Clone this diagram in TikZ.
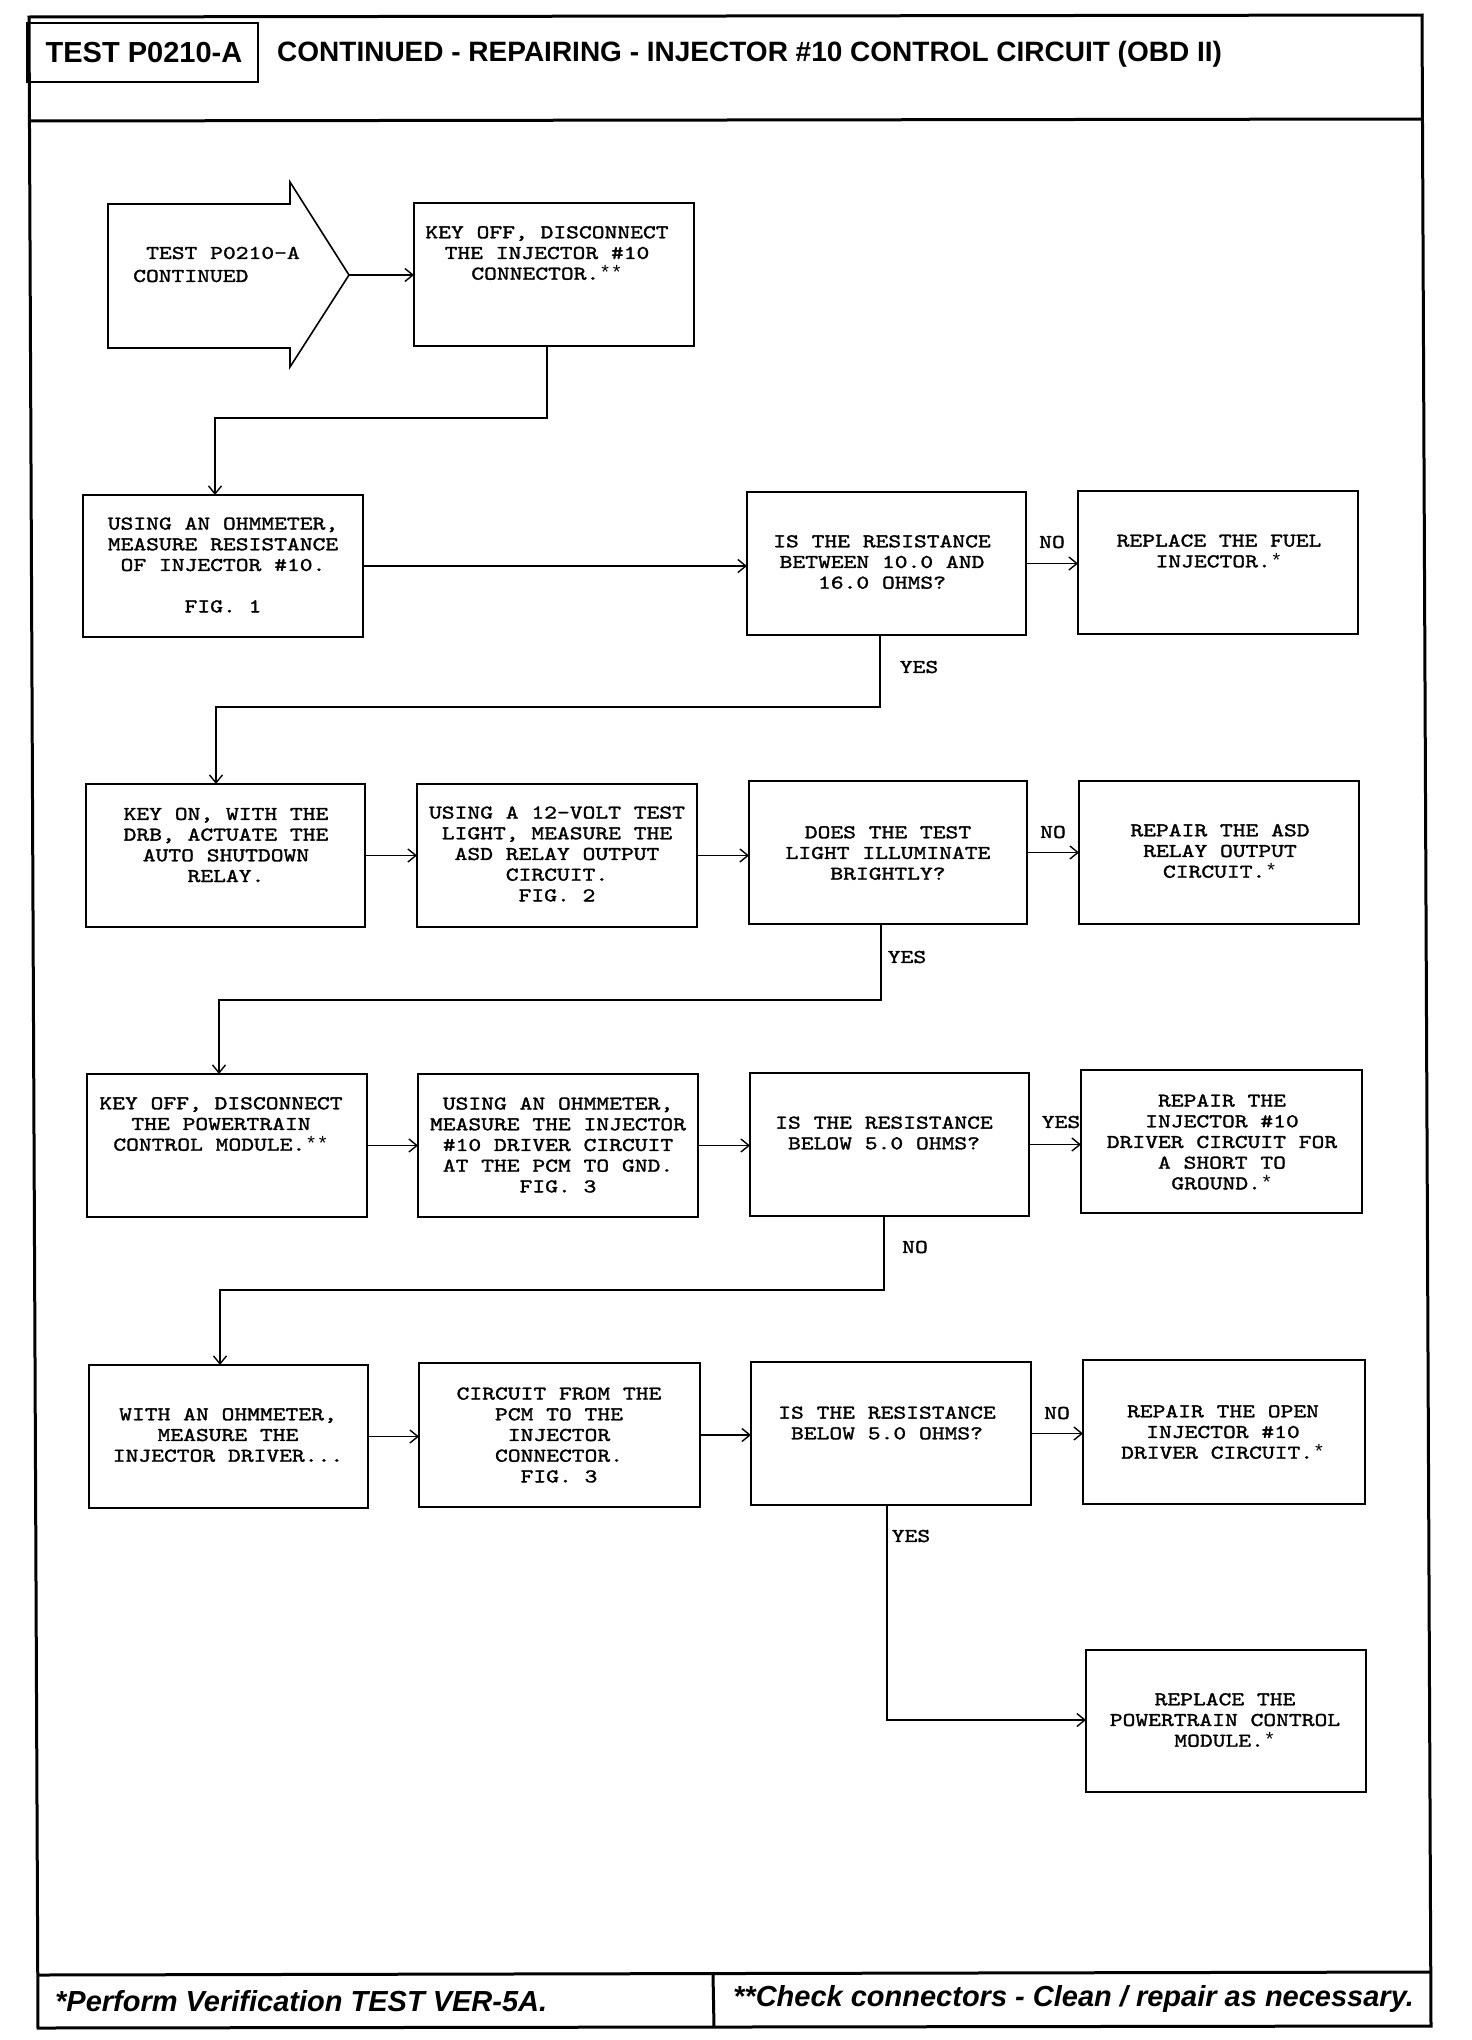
\documentclass[tikz,border=0pt]{standalone}
\usepackage{fontspec}
\usetikzlibrary{arrows.meta}
\newfontfamily\cour{lmmono10-regular.otf}[FakeStretch=1.25,FakeBold=1.6]
\newfontfamily\stfont{Liberation Mono}
\newfontfamily\hsans{Liberation Sans}
\newcommand\st{{\stfont*}}
\newcommand\flowbox[5]{%
  \pgfmathsetmacro\fbw{#4-#2}\pgfmathsetmacro\fbh{#5-#3}%
  \pgfmathsetmacro\fbx{(#2+#4)/2}\pgfmathsetmacro\fby{(#3+#5)/2}%
  \node[boxst, minimum width=\fbw pt, minimum height=\fbh pt] (#1) at (\fbx,\fby) {};}
\begin{document}
\begin{tikzpicture}[x=1pt,y=-1pt,
  boxst/.style={draw, line width=1.9pt, inner sep=0pt, outer sep=0pt},
  txt/.style={font=\cour\fontsize{19.5}{20.7}\selectfont, align=center, inner sep=0pt},
  lbl/.style={font=\cour\fontsize{19.5}{20.7}\selectfont, inner sep=0pt},
  arr/.style={line width=1.4pt, -{Straight Barb[length=8pt,width=13pt,line width=1.4pt]}},
  frame/.style={line width=3pt},
  ttl/.style={font=\hsans\bfseries\fontsize{29}{32}\selectfont, inner sep=0pt},
  ttlb/.style={font=\hsans\bfseries\fontsize{28}{32}\selectfont, inner sep=0pt, anchor=west},
  foot/.style={font=\hsans\bfseries\itshape\fontsize{29}{32}\selectfont, inner sep=0pt, anchor=west}]
\useasboundingbox (0,0) rectangle (1472,2040);
% outer frame
\draw[frame] (29,17) -- (1422,15) -- (1431,2026) -- (38,2028) -- cycle;
\draw[frame] (29,121) -- (1422,119);
\draw[frame] (38,1975) -- (1431,1972);
\draw[frame] (713,1974) -- (714,2027);
% title
\draw[line width=2.5pt] (27,23) rectangle (258,82);
\node[ttl] (title) at (144,53) {TEST P0210-A};
\node[ttlb] (title2) at (277,54) {CONTINUED - REPAIRING - INJECTOR \#10 CONTROL CIRCUIT (OBD II)};
% footer
\node[foot] (f1) at (55,2001) {*Perform Verification TEST VER-5A.};
\node[foot] (f2) at (733,1999) {**Check connectors - Clean / repair as necessary.};
% start arrow shape
\draw[line width=1.6pt] (108,204) -- (290,204) -- (290,182) -- (349,275) -- (290,367) -- (290,348) -- (108,348) -- cycle;
\coordinate (tip) at (349,275);
\node[txt, anchor=west] (s1) at (146,253) {TEST P0210-A};
\node[txt, anchor=west] (s2) at (133,276) {CONTINUED};
% boxes
\flowbox{b1}{414}{203}{694}{346}
\flowbox{b2}{83}{495}{363}{637}
\flowbox{b3}{747}{492}{1026}{635}
\flowbox{b4}{1078}{491}{1358}{634}
\flowbox{b5}{86}{784}{365}{927}
\flowbox{b6}{417}{784}{697}{927}
\flowbox{b7}{749}{781}{1027}{924}
\flowbox{b8}{1079}{781}{1359}{924}
\flowbox{b9}{87}{1074}{367}{1217}
\flowbox{b10}{418}{1074}{698}{1217}
\flowbox{b11}{750}{1073}{1029}{1216}
\flowbox{b12}{1081}{1070}{1362}{1213}
\flowbox{b13}{89}{1365}{368}{1508}
\flowbox{b14}{419}{1363}{700}{1507}
\flowbox{b15}{751}{1362}{1031}{1505}
\flowbox{b16}{1083}{1360}{1365}{1504}
\flowbox{b17}{1086}{1650}{1366}{1792}
% texts
\node[txt] (t1) at (547,253) {KEY OFF, DISCONNECT\\THE INJECTOR \#10\\CONNECTOR.\st\st};
\node[txt] (t2) at (223,565) {USING AN OHMMETER,\\MEASURE RESISTANCE\\OF INJECTOR \#10.\\\mbox{}\\FIG. 1};
\node[txt] (t3) at (882,562) {IS THE RESISTANCE\\BETWEEN 10.0 AND\\16.0 OHMS?};
\node[txt] (t4) at (1219,551) {REPLACE THE FUEL\\INJECTOR.\st};
\node[txt] (t5) at (226,845) {KEY ON, WITH THE\\DRB, ACTUATE THE\\AUTO SHUTDOWN\\RELAY.};
\node[txt] (t6) at (557,854) {USING A 12-VOLT TEST\\LIGHT, MEASURE THE\\ASD RELAY OUTPUT\\CIRCUIT.\\FIG. 2};
\node[txt] (t7) at (888,853) {DOES THE TEST\\LIGHT ILLUMINATE\\BRIGHTLY?};
\node[txt] (t8) at (1220,851) {REPAIR THE ASD\\RELAY OUTPUT\\CIRCUIT.\st};
\node[txt] (t9) at (221,1124) {KEY OFF, DISCONNECT\\THE POWERTRAIN\\CONTROL MODULE.\st\st};
\node[txt] (t10) at (558,1145) {USING AN OHMMETER,\\MEASURE THE INJECTOR\\\#10 DRIVER CIRCUIT\\AT THE PCM TO GND.\\FIG. 3};
\node[txt] (t11) at (884,1133) {IS THE RESISTANCE\\BELOW 5.0 OHMS?};
\node[txt] (t12) at (1222,1142) {REPAIR THE\\INJECTOR \#10\\DRIVER CIRCUIT FOR\\A SHORT TO\\GROUND.\st};
\node[txt] (t13) at (228,1435) {WITH AN OHMMETER,\\MEASURE THE\\INJECTOR DRIVER...};
\node[txt] (t14) at (559,1435) {CIRCUIT FROM THE\\PCM TO THE\\INJECTOR\\CONNECTOR.\\FIG. 3};
\node[txt] (t15) at (887,1423) {IS THE RESISTANCE\\BELOW 5.0 OHMS?};
\node[txt] (t16) at (1223,1432) {REPAIR THE OPEN\\INJECTOR \#10\\DRIVER CIRCUIT.\st};
\node[txt] (t17) at (1225,1720) {REPLACE THE\\POWERTRAIN CONTROL\\MODULE.\st};
% labels
\node[lbl] (l1) at (1052,542) {NO};
\node[lbl] (l2) at (919,667) {YES};
\node[lbl] (l3) at (1053,832) {NO};
\node[lbl] (l4) at (907,957) {YES};
\node[lbl] (l5) at (1061,1122) {YES};
\node[lbl] (l6) at (915,1247) {NO};
\node[lbl] (l7) at (1057,1413) {NO};
\node[lbl] (l8) at (911,1536) {YES};
% connectors
\draw[arr] (tip) -- (tip -| b1.west);
\coordinate (k1a) at (547,418); \coordinate (k1b) at (215,418);
\draw[arr] (b1.south -| k1a) -- (k1a) -- (k1b) -- (b2.north -| k1b);
\draw[arr] (b2.east) -- (b2.east -| b3.west);
\draw[arr] (b3.east) -- (b3.east -| b4.west);
\coordinate (k2a) at (880,707); \coordinate (k2b) at (216,707);
\draw[arr] (b3.south -| k2a) -- (k2a) -- (k2b) -- (b5.north -| k2b);
\draw[arr] (b5.east) -- (b5.east -| b6.west);
\draw[arr] (b6.east) -- (b6.east -| b7.west);
\draw[arr] (b7.east) -- (b7.east -| b8.west);
\coordinate (k3a) at (881,1000); \coordinate (k3b) at (219,1000);
\draw[arr] (b7.south -| k3a) -- (k3a) -- (k3b) -- (b9.north -| k3b);
\draw[arr] (b9.east) -- (b9.east -| b10.west);
\draw[arr] (b10.east) -- (b10.east -| b11.west);
\draw[arr] (b11.east) -- (b11.east -| b12.west);
\coordinate (k4a) at (884,1290); \coordinate (k4b) at (220,1290);
\draw[arr] (b11.south -| k4a) -- (k4a) -- (k4b) -- (b13.north -| k4b);
\draw[arr] (b13.east) -- (b13.east -| b14.west);
\draw[arr] (b14.east) -- (b14.east -| b15.west);
\draw[arr] (b15.east) -- (b15.east -| b16.west);
\coordinate (k5a) at (887,1720);
\draw[arr] (b15.south -| k5a) -- (k5a) -- (k5a -| b17.west);
\end{tikzpicture}
\end{document}
